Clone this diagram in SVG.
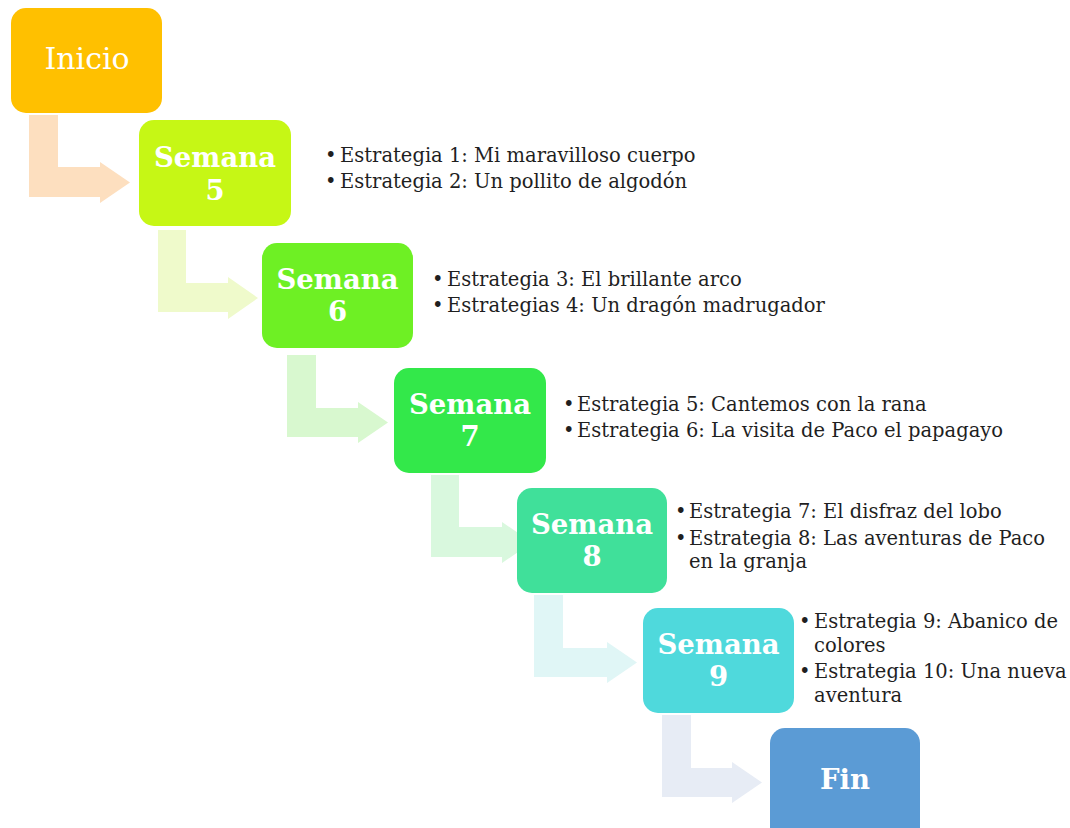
<svg xmlns="http://www.w3.org/2000/svg" width="1070" height="828" viewBox="0 0 1070 828">
<style>
.box{stroke:none}
.title{font-family:"DejaVu Serif","Liberation Serif",serif;font-weight:bold;font-size:27.5px;fill:#fff;text-anchor:middle}
.inicio{font-family:"DejaVu Serif","Liberation Serif",serif;font-size:30px;fill:#fff;text-anchor:middle}
.item{font-family:"DejaVu Serif","Liberation Serif",serif;font-size:19.5px;fill:#1f1f1f}
</style>
<rect width="1070" height="828" fill="#fff"/>
<g id="connectors">
<path d="M29 115 H58 V167 H100 V162 L130 182.5 L100 203 V197 H29 Z" fill="#FDDFBF"/>
<path d="M158 230 H186 V283 H228 V277 L258 298 L228 319 V312 H158 Z" fill="#EFFACB"/>
<path d="M287 355 H316 V408 H358 V402 L388 422.5 L358 443 V437 H287 Z" fill="#D8F8CF"/>
<path d="M431 475 H459 V527 H502 V522 L532 542.5 L502 563 V557 H431 Z" fill="#D9F8DE"/>
<path d="M534 595 H563 V648 H607 V642 L637 662.5 L607 683 V677 H534 Z" fill="#E0F6F6"/>
<path d="M662 715 H691 V768 H732 V762 L762 782.5 L732 803 V797 H662 Z" fill="#E7ECF5"/>
</g>
<g id="inicio">
<rect class="box" x="11" y="8" width="151" height="105" rx="15" fill="#FFC000"/>
<text class="inicio" x="87" y="69">Inicio</text>
</g>
<g id="semana5">
<rect class="box" x="139" y="120" width="152" height="106" rx="15" fill="#C6F715"/>
<text class="title" x="215" y="167">Semana</text>
<text class="title" x="215" y="200">5</text>
<text class="item" x="325" y="162">•</text>
<text class="item" x="340" y="162">Estrategia 1: Mi maravilloso cuerpo</text>
<text class="item" x="325" y="188">•</text>
<text class="item" x="340" y="188">Estrategia 2: Un pollito de algodón</text>
</g>
<g id="semana6">
<rect class="box" x="262" y="243" width="151" height="105" rx="15" fill="#6EF024"/>
<text class="title" x="337.5" y="289">Semana</text>
<text class="title" x="337.5" y="321">6</text>
<text class="item" x="432" y="286">•</text>
<text class="item" x="447" y="286">Estrategia 3: El brillante arco</text>
<text class="item" x="432" y="312">•</text>
<text class="item" x="447" y="312">Estrategias 4: Un dragón madrugador</text>
</g>
<g id="semana7">
<rect class="box" x="394" y="368" width="152" height="105" rx="15" fill="#33E84A"/>
<text class="title" x="470" y="414">Semana</text>
<text class="title" x="470" y="446">7</text>
<text class="item" x="563" y="411">•</text>
<text class="item" x="577" y="411">Estrategia 5: Cantemos con la rana</text>
<text class="item" x="563" y="437">•</text>
<text class="item" x="577" y="437">Estrategia 6: La visita de Paco el papagayo</text>
</g>
<g id="semana8">
<rect class="box" x="517" y="488" width="150" height="105" rx="15" fill="#40E09A"/>
<text class="title" x="592" y="534">Semana</text>
<text class="title" x="592" y="566">8</text>
<text class="item" x="675" y="518">•</text>
<text class="item" x="689" y="518">Estrategia 7: El disfraz del lobo</text>
<text class="item" x="675" y="545">•</text>
<text class="item" x="689" y="545">Estrategia 8: Las aventuras de Paco</text>
<text class="item" x="689" y="568">en la granja</text>
</g>
<g id="semana9">
<rect class="box" x="643" y="608" width="151" height="105" rx="15" fill="#4FD9DC"/>
<text class="title" x="718.5" y="654">Semana</text>
<text class="title" x="718.5" y="686">9</text>
<text class="item" x="799" y="628">•</text>
<text class="item" x="814" y="628">Estrategia 9: Abanico de</text>
<text class="item" x="814" y="652">colores</text>
<text class="item" x="799" y="678">•</text>
<text class="item" x="814" y="678">Estrategia 10: Una nueva</text>
<text class="item" x="814" y="702">aventura</text>
</g>
<g id="fin">
<rect class="box" x="770" y="728" width="150" height="125" rx="15" fill="#5B9BD5"/>
<text class="title" x="845" y="789">Fin</text>
</g>
</svg>
